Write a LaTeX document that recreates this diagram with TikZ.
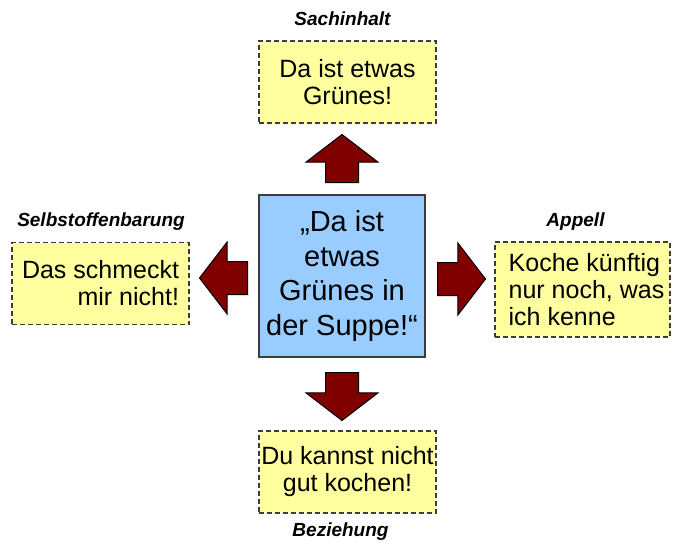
\documentclass[tikz,border=0pt]{standalone}
\usepackage{fontspec}
\setmainfont{Liberation Sans}
\usetikzlibrary{shapes.arrows, positioning}
\definecolor{talkblue}{RGB}{153,204,255}
\definecolor{talkyellow}{RGB}{255,255,160}
\definecolor{talkred}{RGB}{128,0,0}
\definecolor{talkgray}{RGB}{60,60,60}

\tikzset{
    msgbox/.style={draw=talkgray, line width=1.2pt, dash pattern=on 5pt off 3pt, fill=talkyellow,
        minimum width=177pt, minimum height=82pt, inner sep=0pt, align=center,
        font=\fontsize{25}{27}\selectfont},
    saybox/.style={draw=talkgray, line width=1.4pt, fill=talkblue, minimum width=166pt,
        minimum height=162pt, inner sep=0pt, align=center, font=\fontsize{29}{34.5}\selectfont},
    sidelabel/.style={anchor=base, inner sep=0pt, font=\fontsize{19}{22}\selectfont\bfseries\itshape},
    blockarrow/.style={single arrow, draw=black, line width=1pt, fill=talkred, anchor=tail,
        inner xsep=0pt, inner ysep=16pt, minimum height=48pt,
        single arrow head extend=19.5pt, single arrow tip angle=105}
}

\begin{document}
\begin{tikzpicture}[x=1pt, y=-1pt]
    \useasboundingbox (0,0) rectangle (676,556);

    \node[saybox] (saying) at (342,276) {„Da ist\\etwas\\Grünes in\\der Suppe!“};

    \node[msgbox] (content) at (347.5,82) {Da ist etwas\\Grünes!};
    \node[msgbox, align=right] (selfrev) at (100.5,283.5) {Das schmeckt\\mir nicht!};
    \node[msgbox, align=left, minimum width=175pt, minimum height=95pt] (appeal) at (582.5,289.5) {\hspace*{8pt}Koche künftig\\\hspace*{8pt}nur noch, was\\\hspace*{8pt}ich kenne};
    \node[msgbox] (relation) at (347.5,472) {Du kannst nicht\\gut kochen!};

    \node[sidelabel] (contentLabel) at (342.5,26) {Sachinhalt};
    \node[sidelabel] (selfrevLabel) at (101,226) {Selbstoffenbarung};
    \node[sidelabel] (appealLabel) at (575.5,226) {Appell};
    \node[sidelabel] (relationLabel) at (340.5,536) {Beziehung};

    \node[blockarrow, rotate=90] (toContent) at (342,183) {};
    \node[blockarrow, rotate=180] (toSelfrev) at (248,278) {};
    \node[blockarrow] (toAppeal) at (437,279) {};
    \node[blockarrow, rotate=-90] (toRelation) at (342,372) {};
\end{tikzpicture}
\end{document}
